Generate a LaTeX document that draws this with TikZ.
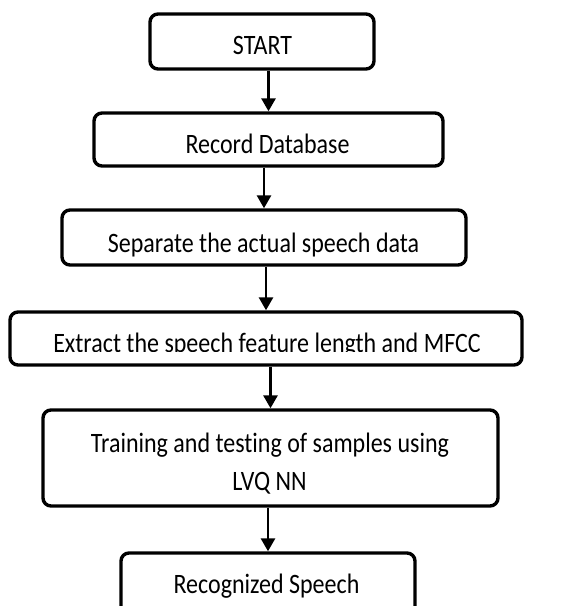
\documentclass[tikz,border=0pt]{standalone}
\usepackage{fontspec}
\setmainfont[Ligatures=NoCommon]{Carlito}
\usepackage{graphicx}
\usetikzlibrary{arrows.meta}
\tikzset{
  box/.style={draw=black, line width=3.4pt, rounded corners=8pt, inner sep=0pt},
  lbl/.style={anchor=base, inner sep=0pt, font=\fontsize{24}{24}\selectfont},
  arr/.style={draw=black, line width=2.8pt, -{Triangle[length=13pt,width=14pt]}},
}
\newcommand{\vstretch}[1]{\scalebox{1}[1.17]{#1}}
\begin{document}
\begin{tikzpicture}[x=1pt,y=-1pt]
\useasboundingbox (0,0) rectangle (576,606);
% boxes
\node[box, minimum width=224pt, minimum height=55pt] (start) at (262,41.5) {};
\node[box, minimum width=349pt, minimum height=53pt] (rec) at (268.5,139.5) {};
\node[box, minimum width=404pt, minimum height=55pt] (sep) at (264,237.5) {};
\node[box, minimum width=512pt, minimum height=53pt] (ext) at (266,338.5) {};
\node[box, minimum width=455pt, minimum height=96pt] (tr) at (270.5,458) {};
\node[box, minimum width=294pt, minimum height=70pt] (out) at (268,588) {};
% texts
\node[lbl] (tstart) at (262.5,54) {\vstretch{START}};
\node[lbl] (trec) at (267.5,153) {\vstretch{Record Database}};
\node[lbl] (tsep) at (263.5,252) {\vstretch{Separate the actual speech data}};
\begin{scope}
  \clip (0,0) rectangle (576,351.5);
  \node[lbl] (text) at (267,352.5) {\vstretch{Extract the speech feature length and MFCC}};
\end{scope}
\node[lbl] (ttr1) at (270,452) {\vstretch{Training and testing of samples using}};
\node[lbl] (ttr2) at (269.5,490) {\vstretch{LVQ NN}};
\node[lbl] (tout) at (266.5,593) {\vstretch{Recognized Speech}};
% connectors
\draw[arr] (start.south -| rec.north) -- (rec.north);
\draw[arr] (rec.south -| sep.north) -- (sep.north);
\draw[arr] (sep.south -| ext.north) -- (ext.north);
\draw[arr] (ext.south -| tr.north) -- (tr.north);
\draw[arr] (tr.south -| out.north) -- (out.north);
\end{tikzpicture}
\end{document}
